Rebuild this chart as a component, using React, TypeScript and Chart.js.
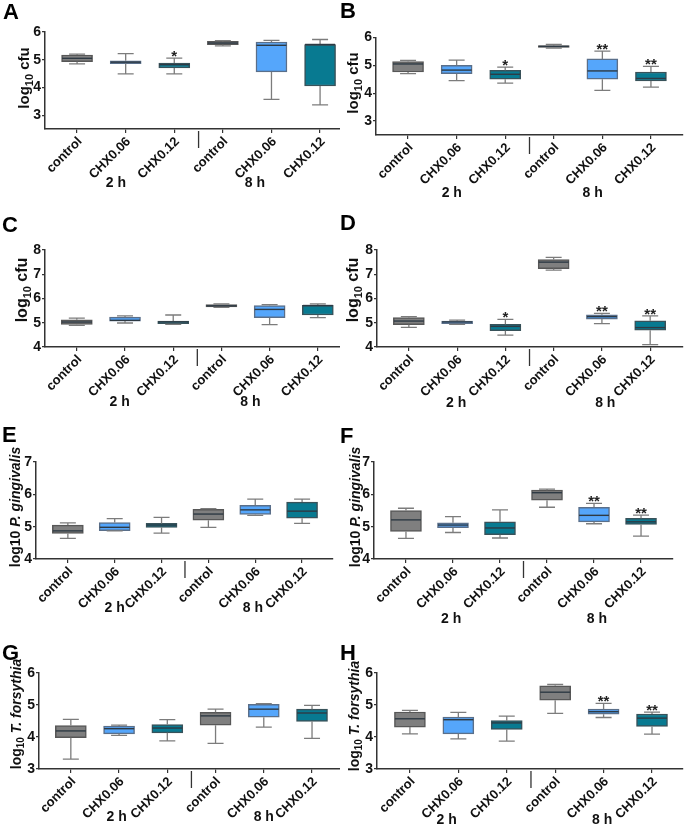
import React, { useEffect, useRef } from 'react';
import { Chart, registerables } from 'chart.js';

Chart.register(...registerables);

const CATEGORIES = ['control', 'CHX0.06', 'CHX0.12', 'control', 'CHX0.06', 'CHX0.12'];
const GROUP_LABELS = ['2 h', '8 h'];
const BOX_COLORS = ['#7f7f7f', '#55a6fb', '#087a91', '#7f7f7f', '#55a6fb', '#087a91'];
const BOX_BORDERS = ['#575757', '#5a6f8a', '#38525a', '#575757', '#5a6f8a', '#38525a'];

// Panel A
const A_MIN = [4.85, 4.49, 4.49, 5.5, 3.57, 3.37];
const A_Q1 = [4.93, 4.86, 4.7, 5.54, 4.56, 4.05];
const A_MED = [5.05, 4.91, 4.82, 5.6, 5.52, 5.55];
const A_Q3 = [5.17, 4.96, 4.88, 5.66, 5.64, 5.55];
const A_MAX = [5.2, 5.22, 5.06, 5.69, 5.7, 5.73];
const A_SIG = ['', '', '*', '', '', ''];
const A_TICKS = [3, 4, 5, 6];

// Panel B
const B_MIN = [4.7, 4.45, 4.36, 5.62, 4.1, 4.22];
const B_Q1 = [4.76, 4.7, 4.5, 5.64, 4.5, 4.44];
const B_MED = [5.05, 4.83, 4.68, 5.68, 4.8, 4.53];
const B_Q3 = [5.14, 5.0, 4.82, 5.71, 5.23, 4.76];
const B_MAX = [5.18, 5.19, 4.94, 5.75, 5.51, 4.96];
const B_SIG = ['', '', '*', '', '**', '**'];
const B_TICKS = [3, 4, 5, 6];

// Panel C
const C_MIN = [4.89, 4.99, 4.93, 5.64, 4.92, 5.21];
const C_Q1 = [4.93, 5.07, 4.96, 5.65, 5.21, 5.32];
const C_MED = [5.03, 5.1, 5.03, 5.7, 5.55, 5.71];
const C_Q3 = [5.12, 5.23, 5.07, 5.75, 5.71, 5.72];
const C_MAX = [5.19, 5.28, 5.32, 5.78, 5.75, 5.78];
const C_SIG = ['', '', '', '', '', ''];
const C_TICKS = [4, 5, 6, 7, 8];

// Panel D
const D_MIN = [4.81, 4.93, 4.49, 7.17, 4.96, 4.1];
const D_Q1 = [4.92, 4.96, 4.67, 7.23, 5.15, 4.69];
const D_MED = [5.07, 5.03, 4.85, 7.5, 5.25, 4.8];
const D_Q3 = [5.21, 5.07, 4.94, 7.61, 5.33, 5.08];
const D_MAX = [5.25, 5.11, 5.14, 7.7, 5.39, 5.28];
const D_SIG = ['', '', '*', '', '**', '**'];
const D_TICKS = [4, 5, 6, 7, 8];

// Panel E
const E_MIN = [4.64, 4.87, 4.8, 4.98, 5.35, 5.1];
const E_Q1 = [4.79, 4.88, 4.98, 5.2, 5.38, 5.26];
const E_MED = [4.87, 4.98, 5.05, 5.39, 5.52, 5.48];
const E_Q3 = [5.05, 5.13, 5.1, 5.54, 5.66, 5.76];
const E_MAX = [5.12, 5.25, 5.29, 5.56, 5.85, 5.85];
const E_SIG = ['', '', '', '', '', ''];
const E_TICKS = [4, 5, 6, 7];

// Panel F
const F_MIN = [4.64, 4.82, 4.65, 5.6, 5.09, 4.71];
const F_Q1 = [4.85, 4.97, 4.75, 5.82, 5.15, 5.07];
const F_MED = [5.21, 5.05, 4.96, 6.05, 5.35, 5.15];
const F_Q3 = [5.5, 5.12, 5.15, 6.13, 5.6, 5.26];
const F_MAX = [5.57, 5.31, 5.52, 6.16, 5.72, 5.36];
const F_SIG = ['', '', '', '', '**', '**'];
const F_TICKS = [4, 5, 6, 7];

// Panel G
const G_MIN = [3.31, 4.05, 3.88, 3.8, 4.31, 3.96];
const G_Q1 = [3.98, 4.1, 4.13, 4.37, 4.62, 4.49];
const G_MED = [4.19, 4.26, 4.28, 4.66, 4.87, 4.75];
const G_Q3 = [4.36, 4.34, 4.39, 4.77, 5.02, 4.87];
const G_MAX = [4.55, 4.37, 4.54, 4.87, 5.04, 4.99];
const G_SIG = ['', '', '', '', '', ''];
const G_TICKS = [3, 4, 5, 6];

// Panel H
const H_MIN = [4.1, 3.94, 3.87, 4.74, 4.61, 4.09];
const H_Q1 = [4.31, 4.1, 4.24, 5.15, 4.71, 4.33];
const H_MED = [4.57, 4.54, 4.44, 5.4, 4.79, 4.59];
const H_Q3 = [4.78, 4.62, 4.51, 5.6, 4.87, 4.72];
const H_MAX = [4.83, 4.77, 4.65, 5.64, 5.05, 4.78];
const H_SIG = ['', '', '', '', '**', '**'];
const H_TICKS = [3, 4, 5, 6];

const FONT = '"Liberation Sans", Arial, sans-serif';

type Part = { t: string; sub?: boolean; it?: boolean };
const TITLE_CFU: Part[] = [{ t: 'log' }, { t: '10', sub: true }, { t: ' cfu' }];
const TITLE_PG: Part[] = [{ t: 'log10 ' }, { t: 'P. gingivalis', it: true }];
const TITLE_TF: Part[] = [{ t: 'log' }, { t: '10', sub: true }, { t: ' ' }, { t: 'T. forsythia', it: true }];

const PANELS = [
  { letter: 'A', lx: 3, ly: 4, cell: [0, 0, 340, 205], plot: [45, 32, 340, 129], yr: [2.5, 6], xr: [-0.66, 5.41],
    min: A_MIN, q1: A_Q1, med: A_MED, q3: A_Q3, max: A_MAX, sig: A_SIG, ticks: A_TICKS,
    title: TITLE_CFU, tSize: 15, tx: 25, ty: 78, gy: 54, gx: [0.8, 3.66] },
  { letter: 'B', lx: 340, ly: 3, cell: [340, 0, 685, 205], plot: [376, 37.5, 683, 135], yr: [2.5, 6], xr: [-0.66, 5.66],
    min: B_MIN, q1: B_Q1, med: B_MED, q3: B_Q3, max: B_MAX, sig: B_SIG, ticks: B_TICKS,
    title: TITLE_CFU, tSize: 15, tx: 354, ty: 83, gy: 58, gx: [0.9, 3.8] },
  { letter: 'C', lx: 2, ly: 217, cell: [0, 205, 340, 415], plot: [45, 250, 340, 347], yr: [4, 8], xr: [-0.66, 5.46],
    min: C_MIN, q1: C_Q1, med: C_MED, q3: C_Q3, max: C_MAX, sig: C_SIG, ticks: C_TICKS,
    title: TITLE_CFU, tSize: 16, tx: 23, ty: 290, gy: 55, gx: [0.89, 3.6] },
  { letter: 'D', lx: 340, ly: 215, cell: [340, 205, 685, 415], plot: [377, 250, 683, 347], yr: [4, 8], xr: [-0.66, 5.68],
    min: D_MIN, q1: D_Q1, med: D_MED, q3: D_Q3, max: D_MAX, sig: D_SIG, ticks: D_TICKS,
    title: TITLE_CFU, tSize: 16, tx: 354, ty: 290, gy: 56, gx: [0.98, 4.07] },
  { letter: 'E', lx: 2, ly: 427, cell: [0, 415, 340, 627], plot: [36, 462, 333, 559], yr: [4, 7], xr: [-0.68, 5.66],
    min: E_MIN, q1: E_Q1, med: E_MED, q3: E_Q3, max: E_MAX, sig: E_SIG, ticks: E_TICKS,
    title: TITLE_PG, tSize: 14, tx: 16, ty: 507, gy: 49, gx: [1.0, 3.95] },
  { letter: 'F', lx: 340, ly: 428, cell: [340, 415, 685, 627], plot: [374, 462, 673, 559], yr: [4, 7], xr: [-0.68, 5.68],
    min: F_MIN, q1: F_Q1, med: F_MED, q3: F_Q3, max: F_MAX, sig: F_SIG, ticks: F_TICKS,
    title: TITLE_PG, tSize: 14, tx: 356, ty: 507, gy: 60, gx: [0.96, 4.06] },
  { letter: 'G', lx: 2, ly: 645, cell: [0, 627, 340, 826], plot: [39, 673, 340, 769], yr: [3, 6], xr: [-0.66, 5.58],
    min: G_MIN, q1: G_Q1, med: G_MED, q3: G_Q3, max: G_MAX, sig: G_SIG, ticks: G_TICKS,
    title: TITLE_TF, tSize: 14, tx: 17, ty: 714, gy: 48, gx: [0.95, 4.0] },
  { letter: 'H', lx: 340, ly: 645, cell: [340, 627, 685, 826], plot: [377, 673, 683, 769], yr: [3, 6], xr: [-0.68, 5.64],
    min: H_MIN, q1: H_Q1, med: H_MED, q3: H_Q3, max: H_MAX, sig: H_SIG, ticks: H_TICKS,
    title: TITLE_TF, tSize: 14, tx: 355, ty: 716, gy: 51, gx: [0.76, 3.97] },
];

function makeChart(canvas: HTMLCanvasElement, p: any) {
  const [cl, ct, cr, cb] = p.cell;
  const [pl, pt, pr, pb] = p.plot;
  const extras = {
    id: 'boxExtras',
    afterDatasetsDraw(chart: any) {
      const { ctx, scales } = chart;
      const x = scales.x;
      const y = scales.y;
      ctx.save();
      CATEGORIES.forEach((_, i) => {
        const px = x.getPixelForValue(i);
        const yMin = y.getPixelForValue(p.min[i]);
        const yQ1 = y.getPixelForValue(p.q1[i]);
        const yMed = y.getPixelForValue(p.med[i]);
        const yQ3 = y.getPixelForValue(p.q3[i]);
        const yMax = y.getPixelForValue(p.max[i]);
        ctx.strokeStyle = '#7c7c7c';
        ctx.lineWidth = 1.3;
        ctx.beginPath();
        ctx.moveTo(px, yQ3); ctx.lineTo(px, yMax);
        ctx.moveTo(px - 8, yMax); ctx.lineTo(px + 8, yMax);
        ctx.moveTo(px, yQ1); ctx.lineTo(px, yMin);
        ctx.moveTo(px - 8, yMin); ctx.lineTo(px + 8, yMin);
        ctx.stroke();
        ctx.strokeStyle = '#2e3a44';
        ctx.lineWidth = 1.4;
        ctx.beginPath();
        ctx.moveTo(px - 15, yMed); ctx.lineTo(px + 15, yMed);
        ctx.stroke();
        if (p.sig[i]) {
          ctx.fillStyle = '#222';
          ctx.font = 'bold 15px ' + FONT;
          ctx.textAlign = 'center';
          ctx.textBaseline = 'alphabetic';
          ctx.fillText(p.sig[i], px, yMax + 3);
        }
      });
      ctx.restore();
    },
    afterDraw(chart: any) {
      const { ctx, scales, chartArea } = chart;
      const x = scales.x;
      ctx.save();
      const sx = x.getPixelForValue(2.5);
      ctx.strokeStyle = '#333';
      ctx.lineWidth = 1.3;
      ctx.beginPath();
      ctx.moveTo(sx, chartArea.bottom + 2);
      ctx.lineTo(sx, chartArea.bottom + 19);
      ctx.stroke();
      ctx.fillStyle = '#111';
      ctx.font = 'bold 14px ' + FONT;
      ctx.textAlign = 'center';
      ctx.textBaseline = 'middle';
      GROUP_LABELS.forEach((g, k) => {
        ctx.fillText(g, x.getPixelForValue(p.gx[k]), chartArea.bottom + p.gy);
      });
      const size = p.tSize;
      const fontFor = (part: Part) =>
        (part.it ? 'italic ' : '') + 'bold ' + (part.sub ? Math.round(size * 0.7) : size) + 'px ' + FONT;
      let total = 0;
      const widths = p.title.map((part: Part) => {
        ctx.font = fontFor(part);
        const w = ctx.measureText(part.t).width;
        total += w;
        return w;
      });
      ctx.translate(p.tx - cl, p.ty - ct);
      ctx.rotate(-Math.PI / 2);
      ctx.textAlign = 'left';
      ctx.textBaseline = 'middle';
      let cx = -total / 2;
      p.title.forEach((part: Part, k: number) => {
        ctx.font = fontFor(part);
        ctx.fillText(part.t, cx, part.sub ? size * 0.3 : 0);
        cx += widths[k];
      });
      ctx.restore();
    },
  };

  return new Chart(canvas, {
    type: 'bar',
    data: {
      datasets: [
        {
          data: CATEGORIES.map((_, i) => ({ x: i, y: [p.q1[i], p.q3[i]] })) as any,
          backgroundColor: BOX_COLORS,
          borderColor: BOX_BORDERS,
          borderWidth: 1.5,
          borderSkipped: false,
          barThickness: 31,
          grouped: false,
        } as any,
      ],
    },
    options: {
      animation: false,
      responsive: false,
      maintainAspectRatio: false,
      devicePixelRatio: 1,
      events: [],
      layout: { padding: { left: 0, top: pt - ct, right: cr - pr, bottom: 0 } },
      plugins: { legend: { display: false }, tooltip: { enabled: false }, title: { display: false } },
      scales: {
        x: {
          type: 'linear',
          offset: false,
          min: p.xr[0],
          max: p.xr[1],
          afterBuildTicks: (s: any) => {
            s.ticks = CATEGORIES.map((_, i) => ({ value: i }));
          },
          afterFit: (s: any) => {
            s.height = cb - pb;
          },
          ticks: {
            autoSkip: false,
            minRotation: 45,
            maxRotation: 45,
            padding: 1,
            labelOffset: 3,
            color: '#111',
            font: { family: FONT, weight: 'bold', size: 13 },
            callback: (v: any) => CATEGORIES[Math.round(Number(v))],
          },
          grid: { offset: false, drawOnChartArea: false, drawTicks: true, tickLength: 4, color: '#333', lineWidth: 1.2 },
          border: { display: true, color: '#333', width: 1.5 },
        },
        y: {
          type: 'linear',
          min: p.yr[0],
          max: p.yr[1],
          afterBuildTicks: (s: any) => {
            s.ticks = p.ticks.map((v: number) => ({ value: v }));
          },
          afterFit: (s: any) => {
            s.width = pl - cl;
          },
          ticks: {
            padding: 1,
            color: '#111',
            font: { family: FONT, weight: 'bold', size: 14 },
          },
          grid: { drawOnChartArea: false, drawTicks: true, tickLength: 3, color: '#333', lineWidth: 1.2 },
          border: { display: true, color: '#333', width: 1.5 },
        },
      },
    } as any,
    plugins: [extras],
  });
}

export default function App() {
  const refs = useRef<(HTMLCanvasElement | null)[]>([]);
  useEffect(() => {
    const charts = PANELS.map((p, i) => makeChart(refs.current[i] as HTMLCanvasElement, p));
    return () => charts.forEach((c) => c.destroy());
  }, []);
  return (
    <div style={{ position: 'absolute', left: 0, top: 0, width: 685, height: 826, background: '#fff', overflow: 'hidden' }}>
      {PANELS.map((p, i) => {
        const [cl, ct, cr, cb] = p.cell;
        return (
          <canvas
            key={'c' + p.letter}
            ref={(el) => { refs.current[i] = el; }}
            width={cr - cl}
            height={cb - ct}
            style={{ position: 'absolute', left: cl, top: ct, width: cr - cl, height: cb - ct }}
          />
        );
      })}
      {PANELS.map((p) => (
        <div
          key={'l' + p.letter}
          style={{
            position: 'absolute', left: p.lx, top: p.ly - 3, fontFamily: FONT, fontWeight: 'bold',
            fontSize: 22, lineHeight: '22px', color: '#000',
          }}
        >
          {p.letter}
        </div>
      ))}
    </div>
  );
}
